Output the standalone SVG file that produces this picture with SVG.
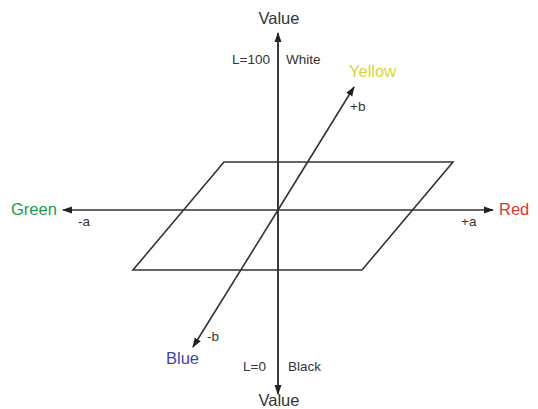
<svg xmlns="http://www.w3.org/2000/svg" width="538" height="409" viewBox="0 0 538 409">
<defs>
<marker id="ah" markerWidth="10" markerHeight="8" refX="9" refY="4" orient="auto" markerUnits="userSpaceOnUse">
<path d="M0,0.5 L10,4 L0,7.5 Z" fill="#222"/>
</marker>
<style>
.ax{stroke:#333;stroke-width:1.6;fill:none}
.t{font-family:"Liberation Sans",Arial,sans-serif;fill:#333}
.s{font-size:13.5px}
.l{font-size:16.5px}
</style>
</defs>
<rect width="538" height="409" fill="#fff"/>
<g id="plane"><polygon points="224,162 453,162 362,270 133,270" class="ax"/></g>
<g id="connectors">
<line x1="278" y1="385" x2="278" y2="33" class="ax" marker-end="url(#ah)"/>
<line x1="278" y1="40" x2="278" y2="394" class="ax" marker-end="url(#ah)"/>
<line x1="278" y1="210" x2="63" y2="210" class="ax" marker-end="url(#ah)"/>
<line x1="278" y1="210" x2="493" y2="210" class="ax" marker-end="url(#ah)"/>
<line x1="278" y1="210" x2="354" y2="87" class="ax" marker-end="url(#ah)"/>
<line x1="278" y1="210" x2="193" y2="347" class="ax" marker-end="url(#ah)"/>
</g>
<g id="value-top"><text class="t l" x="279" y="24" text-anchor="middle">Value</text></g>
<g id="value-bottom"><text class="t l" x="279" y="406" text-anchor="middle">Value</text></g>
<g id="white"><text class="t s" x="270" y="64" text-anchor="end">L=100</text><text class="t s" x="286" y="64">White</text></g>
<g id="black"><text class="t s" x="266" y="371" text-anchor="end">L=0</text><text class="t s" x="288" y="371">Black</text></g>
<g id="yellow"><text class="t l" x="349" y="77" style="fill:#d6d63a">Yellow</text><text class="t s" x="350" y="111">+b</text></g>
<g id="blue"><text class="t l" x="166" y="364" style="fill:#4444aa">Blue</text><text class="t s" x="207" y="341">-b</text></g>
<g id="green"><text class="t l" x="11" y="215" style="fill:#1a9a50">Green</text><text class="t s" x="78" y="226">-a</text></g>
<g id="red"><text class="t l" x="499" y="215" style="fill:#e03535">Red</text><text class="t s" x="461" y="226">+a</text></g>
</svg>
